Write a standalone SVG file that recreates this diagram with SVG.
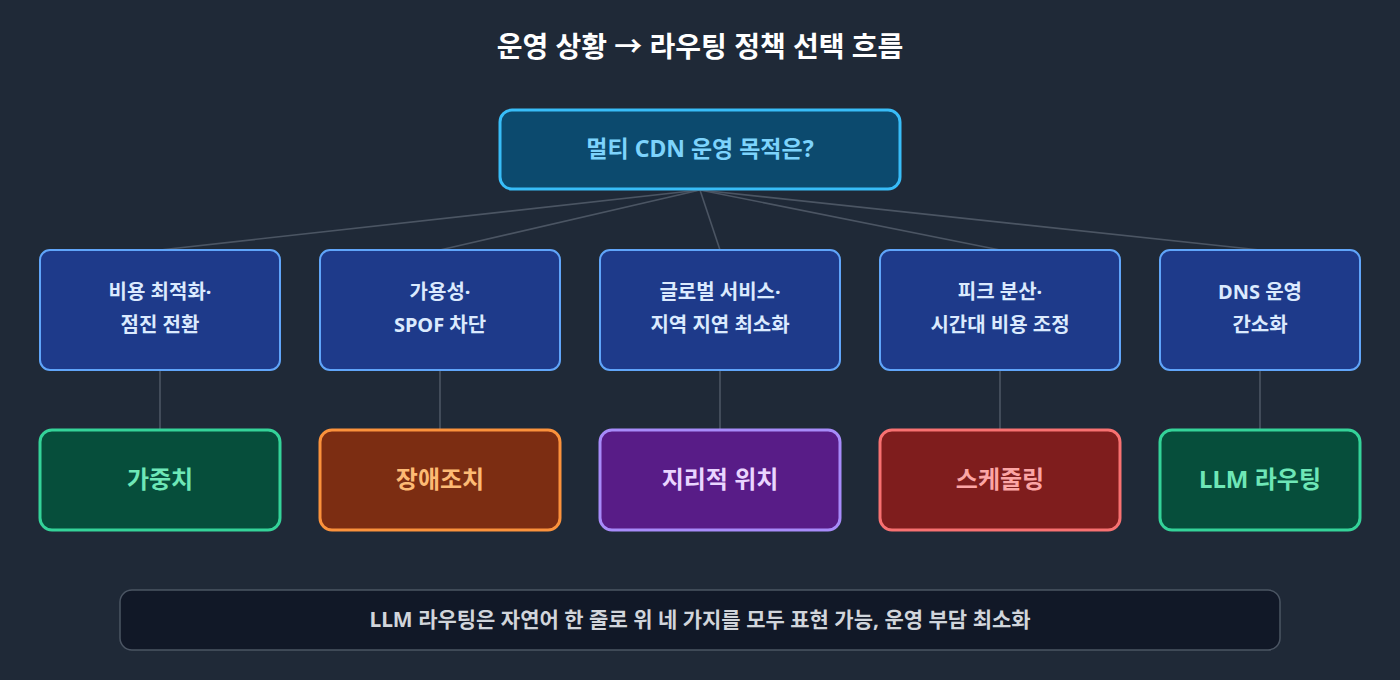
<svg xmlns="http://www.w3.org/2000/svg" width="1400" height="680" viewBox="0 0 1400 680">
<style>
text{font-family:"Noto Sans","Noto Sans CJK KR",sans-serif;font-weight:bold;text-anchor:middle;dominant-baseline:middle}
.mid rect{fill:#1e3a8a;stroke:#60a5fa;stroke-width:2}
.mid text{fill:#dbeafe;font-size:20px}
.bot text{font-size:24px}
.c line{stroke:#4b5563;stroke-width:1.6}
</style>
<rect width="1400" height="680" fill="#1f2937"/>
<text x="700" y="49" font-size="28" fill="#ffffff">운영 상황 → 라우팅 정책 선택 흐름</text>
<g class="c">
<line x1="700" y1="190" x2="160" y2="250"/><line x1="700" y1="190" x2="440" y2="250"/><line x1="700" y1="190" x2="720" y2="250"/><line x1="700" y1="190" x2="1000" y2="250"/><line x1="700" y1="190" x2="1260" y2="250"/>
<line x1="160" y1="370" x2="160" y2="430"/><line x1="440" y1="370" x2="440" y2="430"/><line x1="720" y1="370" x2="720" y2="430"/><line x1="1000" y1="370" x2="1000" y2="430"/><line x1="1260" y1="370" x2="1260" y2="430"/>
</g>
<g id="root"><rect x="500" y="110" width="400" height="79" rx="12" fill="#0c4a6e" stroke="#38bdf8" stroke-width="3"/><text x="700" y="151" font-size="23" fill="#7dd3fc">멀티 CDN 운영 목적은?</text></g>
<g id="m1" class="mid"><rect x="40" y="250" width="240" height="120" rx="10"/><text x="160" y="294">비용 최적화·</text><text x="160" y="327">점진 전환</text></g>
<g id="m2" class="mid"><rect x="320" y="250" width="240" height="120" rx="10"/><text x="440" y="294">가용성·</text><text x="440" y="327">SPOF 차단</text></g>
<g id="m3" class="mid"><rect x="600" y="250" width="240" height="120" rx="10"/><text x="720" y="294">글로벌 서비스·</text><text x="720" y="327">지역 지연 최소화</text></g>
<g id="m4" class="mid"><rect x="880" y="250" width="240" height="120" rx="10"/><text x="1000" y="294">피크 분산·</text><text x="1000" y="327">시간대 비용 조정</text></g>
<g id="m5" class="mid"><rect x="1160" y="250" width="200" height="120" rx="10"/><text x="1260" y="294">DNS 운영</text><text x="1260" y="327">간소화</text></g>
<g id="b1" class="bot"><rect x="40" y="430" width="240" height="100" rx="12" fill="#064e3b" stroke="#34d399" stroke-width="3"/><text x="160" y="481" fill="#6ee7b7">가중치</text></g>
<g id="b2" class="bot"><rect x="320" y="430" width="240" height="100" rx="12" fill="#7c2d12" stroke="#fb923c" stroke-width="3"/><text x="440" y="481" fill="#fdba74">장애조치</text></g>
<g id="b3" class="bot"><rect x="600" y="430" width="240" height="100" rx="12" fill="#581c87" stroke="#a78bfa" stroke-width="3"/><text x="720" y="481" fill="#e9d5ff">지리적 위치</text></g>
<g id="b4" class="bot"><rect x="880" y="430" width="240" height="100" rx="12" fill="#7f1d1d" stroke="#f87171" stroke-width="3"/><text x="1000" y="481" fill="#fca5a5">스케줄링</text></g>
<g id="b5" class="bot"><rect x="1160" y="430" width="200" height="100" rx="12" fill="#064e3b" stroke="#34d399" stroke-width="3"/><text x="1260" y="481" fill="#6ee7b7">LLM 라우팅</text></g>
<g id="note"><rect x="120" y="590" width="1160" height="60" rx="12" fill="#111827" stroke="#4b5563" stroke-width="1.5"/><text x="700" y="621" font-size="21" fill="#d1d5db">LLM 라우팅은 자연어 한 줄로 위 네 가지를 모두 표현 가능, 운영 부담 최소화</text></g>
</svg>
